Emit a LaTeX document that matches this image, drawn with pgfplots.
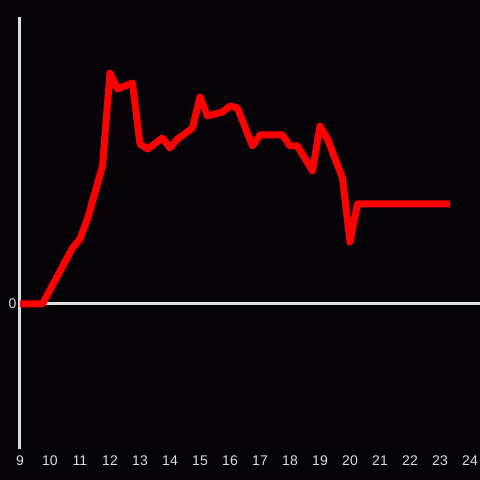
\documentclass[border=0pt]{standalone}
\usepackage{pgfplots}
\pgfplotsset{compat=1.18}
\usepackage{fontspec}
\setmainfont{Liberation Sans}
\definecolor{bgdark}{RGB}{5,3,7}
\definecolor{axisgray}{RGB}{221,221,221}

\begin{document}
\begin{tikzpicture}
\useasboundingbox[fill=bgdark] (-20pt,-32pt) rectangle (460pt,448pt);
\begin{axis}[
    at={(0pt,-1pt)}, anchor=south west,
    scale only axis,
    width=460pt, height=432pt,
    xmin=9, xmax=24.333,
    ymin=-145, ymax=287,
    axis x line*=bottom,
    axis y line*=left,
    x axis line style={draw=none},
    y axis line style={axisgray, line width=3pt},
    xtick={9,10,...,24},
    ytick={0},
    major tick style={draw=none},
    ymajorgrids,
    major grid style={axisgray, line width=3pt},
    tick label style={font=\fontsize{14}{16}\selectfont, text=axisgray},
    /pgf/number format/assume math mode=true,
    xticklabel style={yshift=-3pt},
    yticklabel style={xshift=0pt},
    clip=false,
]
\addplot[red, line width=7pt, line join=round] coordinates {
(9.00,0) (9.75,0) (10.75,56) (11.00,65) (11.25,85) (11.75,138)
(12.00,231) (12.25,215) (12.75,221) (13.00,160) (13.25,155)
(13.75,166) (14.00,156) (14.25,165) (14.75,176) (15.00,207)
(15.25,188) (15.75,192) (16.00,198) (16.25,196) (16.75,158)
(17.00,169) (17.75,169) (18.00,158) (18.25,158) (18.75,133)
(19.00,178) (19.25,165) (19.75,126) (20.00,62) (20.25,100)
(20.67,100) (23.33,100)
};
\end{axis}
\end{tikzpicture}
\end{document}
